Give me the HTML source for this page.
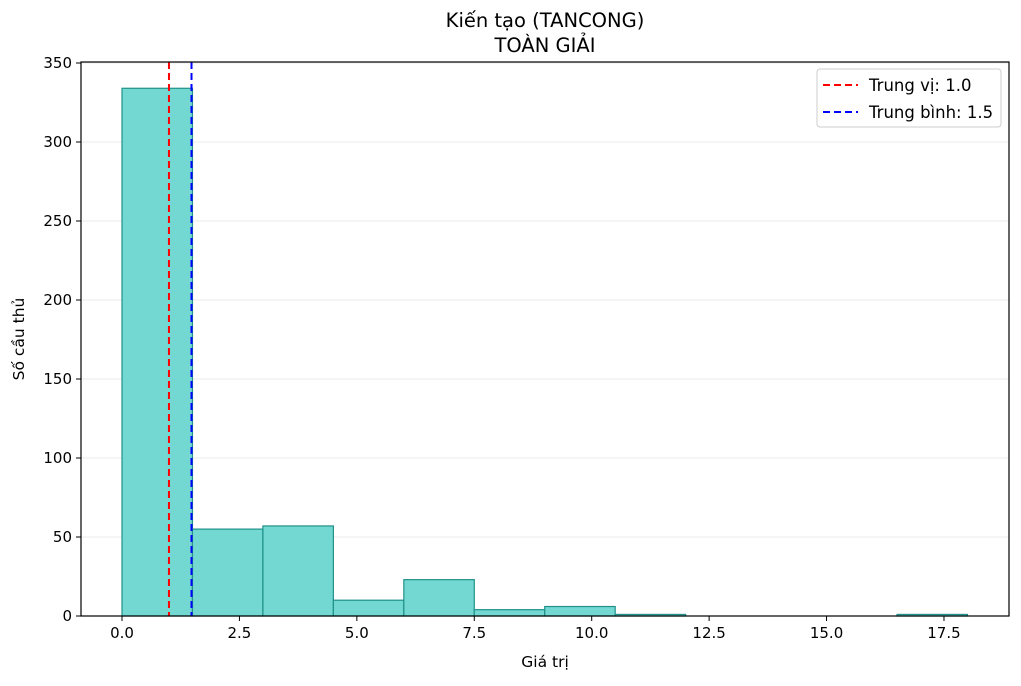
<!DOCTYPE html>
<html><head><meta charset="utf-8"><style>
body{margin:0;background:#fff;font-family:"DejaVu Sans","Liberation Sans",sans-serif;}
svg text{font-family:"DejaVu Sans","Liberation Sans",sans-serif;fill:#000;}
</style></head><body>
<svg id="c" width="1021" height="682" xmlns="http://www.w3.org/2000/svg">
<rect width="1021" height="682" fill="#fff"/>
<g id="grid"></g><g id="bars"></g><g id="lines"></g><g id="axes"></g>
<text x="545" y="27" text-anchor="middle" font-size="19.5">Kiến tạo (TANCONG)</text>
<text x="545" y="52" text-anchor="middle" font-size="19.5">TOÀN GIẢI</text>
<text x="545" y="667" text-anchor="middle" font-size="15.5">Giá trị</text>
<text transform="translate(24,339) rotate(-90)" text-anchor="middle" font-size="15.5">Số cầu thủ</text>
<g>
<rect x="817" y="69" width="184" height="58" rx="3" fill="#fff" stroke="#ccc"/>
<line x1="823" y1="85" x2="858" y2="85" stroke="red" stroke-width="2" stroke-dasharray="7,4"/>
<text x="869" y="91" font-size="16.5">Trung vị: 1.0</text>
<line x1="823" y1="112" x2="858" y2="112" stroke="blue" stroke-width="2" stroke-dasharray="7,4"/>
<text x="869" y="118" font-size="16.5">Trung bình: 1.5</text>
</g>
</svg>
<script>
const binEdges=[0,1.5,3,4.5,6,7.5,9,10.5,12,13.5,15,16.5,18];
const counts=[334,55,57,10,23,4,6,1,0,0,0,1];
const xTicks=[0,2.5,5,7.5,10,12.5,15,17.5];
const yTicks=[0,50,100,150,200,250,300,350];
const median=1.0, mean=1.48;
const L=81,R=1009,T=62,B=616;
const xs=v=>122+v*46.97;
const ys=v=>616-v*1.58;
const NS="http://www.w3.org/2000/svg";
function mk(t,a,p){const e=document.createElementNS(NS,t);for(const k in a)e.setAttribute(k,a[k]);document.getElementById(p).appendChild(e);return e;}
yTicks.forEach(v=>{if(v>0){const g=mk('line',{x1:L,x2:R,y1:ys(v),y2:ys(v),stroke:'#ebebeb'},'grid');

}});
counts.forEach((c,i)=>{const x0=xs(binEdges[i]),x1=xs(binEdges[i+1]);
const r=mk('rect',{x:x0,y:ys(c),width:x1-x0,height:ys(0)-ys(c),fill:'#73d8d1',stroke:'#1f918a','stroke-width':1.2},'bars');

});
const m1=mk('line',{x1:xs(median),x2:xs(median),y1:T,y2:B,stroke:'red','stroke-width':2,'stroke-dasharray':'7,4'},'lines');


const m2=mk('line',{x1:xs(mean),x2:xs(mean),y1:T,y2:B,stroke:'blue','stroke-width':2,'stroke-dasharray':'7,4'},'lines');


const f=mk('rect',{x:L,y:T,width:R-L,height:B-T,fill:'none',stroke:'#000','stroke-width':1.2},'axes');


xTicks.forEach(v=>{mk('line',{x1:xs(v),x2:xs(v),y1:B,y2:B+5,stroke:'#000'},'axes');
const t=mk('text',{x:xs(v),y:B+22,'text-anchor':'middle','font-size':15},'axes');t.textContent=v.toFixed(1);

});
yTicks.forEach(v=>{mk('line',{x1:L-5,x2:L,y1:ys(v),y2:ys(v),stroke:'#000'},'axes');
const t=mk('text',{x:L-9,y:ys(v)+5,'text-anchor':'end','font-size':15},'axes');t.textContent=v;

});
</script>
</body></html>
